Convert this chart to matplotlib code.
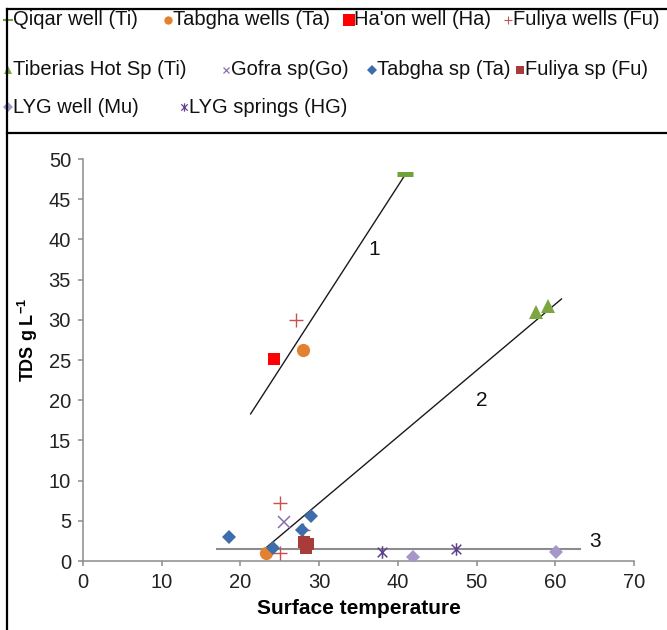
import numpy as np
import matplotlib
matplotlib.use("Agg")
import matplotlib.pyplot as plt
from matplotlib.lines import Line2D
from matplotlib.path import Path

plt.rcParams['font.family'] = ['Liberation Sans', 'DejaVu Sans']

# data (surface temperature, TDS g/L)
qiqar_t, qiqar_tds = [40.9], [48.2]
tabgha_wells_t, tabgha_wells_tds = [27.9, 23.2], [26.2, 0.95]
haon_t, haon_tds = [24.3], [25.1]
fuliya_wells_t, fuliya_wells_tds = [27.1, 25.0, 28.0, 25.0], [30.0, 7.2, 3.8, 1.0]
tiberias_t, tiberias_tds = [57.5, 59.1], [31.0, 31.75]
gofra_t, gofra_tds = [25.5], [4.8]
tabgha_sp_t, tabgha_sp_tds = [18.5, 29.0, 27.8, 24.1], [2.95, 5.6, 3.8, 1.6]
fuliya_sp_t, fuliya_sp_tds = [28.1, 28.6, 28.4], [2.4, 2.1, 1.6]
lyg_well_t, lyg_well_tds = [41.9, 60.1], [0.53, 1.16]
lyg_springs_t, lyg_springs_tds = [38.0, 47.4], [1.08, 1.45]

# hand drawn trend lines (start, end)
line1_t, line1_tds = [21.3, 41.1], [18.3, 48.3]
line2_t, line2_tds = [23.2, 60.8], [1.6, 32.6]
line3_t, line3_tds = [17.0, 63.2], [1.45, 1.45]
line_labels = ['1', '2', '3']
label_t = [37.0, 50.7, 65.0]
label_tds = [38.7, 20.0, 2.4]

xticks = np.arange(0, 71, 10)
yticks = np.arange(0, 51, 5)

star = Path([(-1, -1), (1, 1), (-1, 1), (1, -1), (0, -1.3), (0, 1.3)],
            [Path.MOVETO, Path.LINETO, Path.MOVETO, Path.LINETO, Path.MOVETO, Path.LINETO])

series = [
    # label, t, tds, marker, color, size, mew
    ('Qiqar well (Ti)', qiqar_t, qiqar_tds, '_', '#6FA33A', 11, 3.6),
    ('Tabgha wells (Ta)', tabgha_wells_t, tabgha_wells_tds, 'o', '#E2812F', 9.5, 0),
    ("Ha'on well (Ha)", haon_t, haon_tds, 's', '#FF0000', 9, 0),
    ('Fuliya wells (Fu)', fuliya_wells_t, fuliya_wells_tds, '+', '#C9504D', 9.5, 1.0),
    ('Tiberias Hot Sp (Ti)', tiberias_t, tiberias_tds, '^', '#7BA640', 10, 0),
    ('Gofra sp(Go)', gofra_t, gofra_tds, 'x', '#8A6FB0', 9, 1.1),
    ('Tabgha sp (Ta)', tabgha_sp_t, tabgha_sp_tds, 'D', '#3D6DAA', 7.5, 0),
    ('Fuliya sp (Fu)', fuliya_sp_t, fuliya_sp_tds, 's', '#A83C3A', 8.5, 0),
    ('LYG well (Mu)', lyg_well_t, lyg_well_tds, 'D', '#A597C8', 7.5, 0),
    ('LYG springs (HG)', lyg_springs_t, lyg_springs_tds, star, '#5E4090', 9, 1.1),
]

fig = plt.figure(figsize=(6.67, 6.30), dpi=100)
ax = fig.add_axes([0.1244, 0.1095, 0.826, 0.638])

ax.plot(line3_t, line3_tds, color='#8C8C8C', lw=1.5, zorder=1)
ax.plot(line1_t, line1_tds, color='#1A1A1A', lw=1.0, zorder=1)
ax.plot(line2_t, line2_tds, color='#1A1A1A', lw=1.0, zorder=1)

for name, t, tds, mk, col, ms, mew in series:
    ax.plot(t, tds, ls='none', marker=mk, color=col, ms=ms, mew=mew, zorder=3)

for lab, t, v in zip(line_labels, label_t, label_tds):
    ax.text(t, v, lab, fontsize=15, ha='center', va='center', color='#111111')

ax.set_xlim(0, 70)
ax.set_ylim(0, 50)
ax.set_xticks(xticks)
ax.set_yticks(yticks)
for s in ['top', 'right']:
    ax.spines[s].set_visible(False)
for s in ['left', 'bottom']:
    ax.spines[s].set_color('#8C8C8C')
    ax.spines[s].set_linewidth(1.1)
ax.tick_params(colors='#8C8C8C', labelcolor='#222222', labelsize=14.5, length=3.6, width=1.1, pad=5)
ax.set_xlabel('Surface temperature', fontsize=15, fontweight='bold', labelpad=5)
ax.set_ylabel('TDS g L$^{\\mathregular{-1}}$', fontsize=13, fontweight='bold')
ax.yaxis.set_label_coords(-0.078, 0.55)

# legend laid out like the original (irregular rows)
rows = [
    (0.969, [(0, 8), (1, 168), (2, 349), (3, 508)]),
    (0.889, [(4, 8), (5, 226), (6, 372), (7, 520)]),
    (0.830, [(8, 8), (9, 184)]),
]
leg_ms = {0: 7, 1: 6, 2: 8, 3: 6, 4: 6, 5: 5, 6: 5, 7: 6, 8: 5, 9: 6}
for y, items in rows:
    for idx, xpx in items:
        name, t, tds, mk, col, ms, mew = series[idx]
        xm = xpx / 667
        fig.add_artist(Line2D([xm], [y], marker=mk, color=col, ms=leg_ms[idx],
                              mew=(1.5 if mk == '_' else (mew * 0.8 if mew else 0)), ls='none'))
        fig.text(xm + 5 / 667, y, name, fontsize=14.5, va='center', ha='left', color='#111111')

# frame lines of the original figure
fig.add_artist(Line2D([7 / 667, 7 / 667], [0, 1 - 9 / 630], color='black', lw=1.6))
fig.add_artist(Line2D([7 / 667, 1], [1 - 9 / 630, 1 - 9 / 630], color='black', lw=1.6))
fig.add_artist(Line2D([7 / 667, 1], [1 - 133 / 630, 1 - 133 / 630], color='black', lw=1.6))

fig.savefig('out.png', dpi=100)
